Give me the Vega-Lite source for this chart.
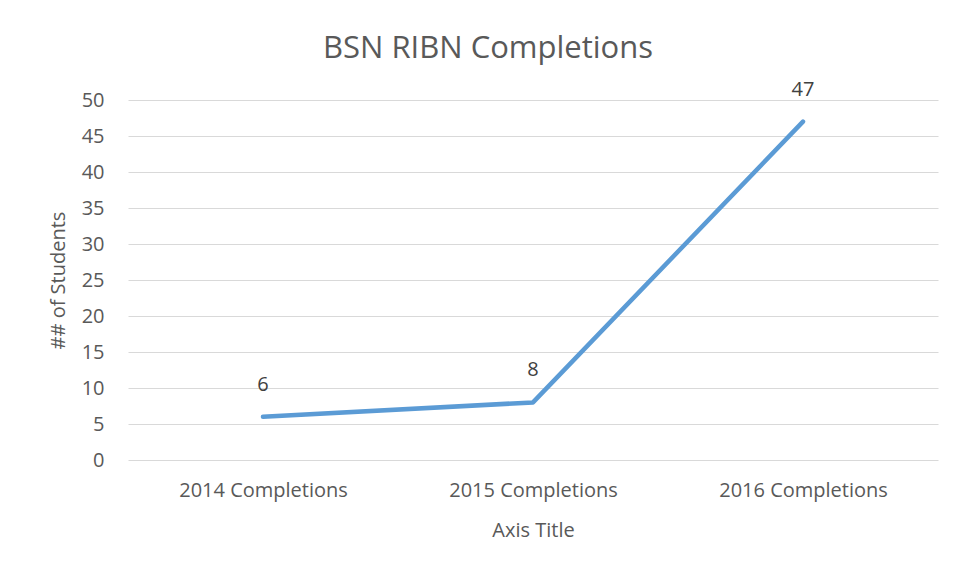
{
  "$schema": "https://vega.github.io/schema/vega-lite/v6.json",
  "width": 810,
  "height": 360,
  "autosize": {"type": "none"},
  "padding": {"left": 128, "top": 100, "right": 18, "bottom": 115},
  "background": "white",
  "title": {
    "text": "BSN RIBN Completions",
    "fontSize": 31,
    "font": "Open Sans",
    "fontWeight": "normal",
    "color": "#595959",
    "anchor": "middle",
    "dx": -45,
    "offset": 15
  },
  "data": {
    "values": [
      {"category": "2014 Completions", "students": 6},
      {"category": "2015 Completions", "students": 8},
      {"category": "2016 Completions", "students": 47}
    ]
  },
  "encoding": {
    "x": {
      "field": "category",
      "type": "nominal",
      "sort": null,
      "title": "Axis Title",
      "axis": {
        "labelAngle": 0,
        "labelFont": "Open Sans",
        "labelFontSize": 20,
        "labelColor": "#595959",
        "labelPadding": 20,
        "ticks": false,
        "domain": false,
        "grid": false,
        "titleFont": "Open Sans",
        "titleFontSize": 20,
        "titleFontWeight": "normal",
        "titleColor": "#595959",
        "titlePadding": 20
      }
    },
    "y": {
      "field": "students",
      "type": "quantitative",
      "title": "## of Students",
      "scale": {"domain": [0, 50], "nice": false},
      "axis": {
        "values": [0, 5, 10, 15, 20, 25, 30, 35, 40, 45, 50],
        "labelFont": "Open Sans",
        "labelFontSize": 20,
        "labelColor": "#595959",
        "labelPadding": 24,
        "ticks": false,
        "domain": false,
        "gridColor": "#d9d9d9",
        "gridWidth": 1,
        "titleFont": "Open Sans",
        "titleFontSize": 20,
        "titleFontWeight": "normal",
        "titleColor": "#595959",
        "titlePadding": 13
      }
    }
  },
  "layer": [
    {
      "mark": {"type": "line", "color": "#5b9bd5", "strokeWidth": 4.5, "strokeCap": "round", "strokeJoin": "round"}
    },
    {
      "mark": {"type": "text", "font": "Open Sans", "fontSize": 20, "color": "#404040", "baseline": "bottom", "dy": -22}
      ,
      "encoding": {"text": {"field": "students", "type": "quantitative"}}
    }
  ],
  "config": {"view": {"stroke": null}}
}
